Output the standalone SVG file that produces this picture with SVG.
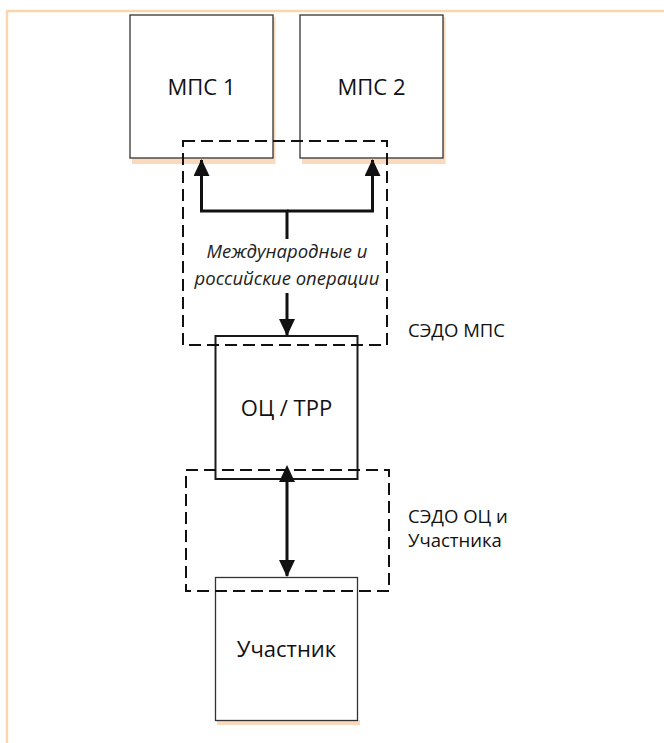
<svg xmlns="http://www.w3.org/2000/svg" width="664" height="743" viewBox="0 0 664 743">
<defs>
<style>
.frame{fill:none;stroke:#FBD5AE;stroke-width:2.5}
.shadow{fill:#FBD9BC}
.box{fill:#fff;stroke:#333;stroke-width:1.3}
.boxb{fill:#fff;stroke:#1a1a1a;stroke-width:2}
.dash{fill:none;stroke:#111;stroke-width:2;stroke-dasharray:12 6}
.con{fill:none;stroke:#111;stroke-width:3}
.lbl{font-family:"Open Sans","Noto Sans","DejaVu Sans",sans-serif;font-size:22px;fill:#111;text-anchor:middle}
.side{font-family:"Open Sans","Noto Sans","DejaVu Sans",sans-serif;font-size:18.5px;fill:#111}
.it{font-family:"Open Sans","Noto Sans","DejaVu Sans",sans-serif;font-size:18.5px;font-style:italic;fill:#222;text-anchor:middle}
</style>
<marker id="ah" viewBox="0 0 17 16" refX="16" refY="8" markerWidth="17" markerHeight="16" markerUnits="userSpaceOnUse" orient="auto">
<path d="M0,0 L17,8 L0,16 z" fill="#111"/>
</marker>
<marker id="ahs" viewBox="0 0 17 16" refX="1" refY="8" markerWidth="17" markerHeight="16" markerUnits="userSpaceOnUse" orient="auto-start-reverse">
<path d="M0,0 L17,8 L0,16 z" fill="#111"/>
</marker>
</defs>
<rect width="664" height="743" fill="#fff"/>
<path class="frame" d="M7,743 V11 H664"/>

<g id="node-mps1">
<rect class="shadow" x="132" y="158" width="143" height="6"/>
<rect class="shadow" x="273" y="17" width="2.5" height="147"/>
<rect class="box" x="130" y="15" width="143" height="143"/>
<text class="lbl" x="201.5" y="95">МПС 1</text>
</g>
<g id="node-mps2">
<rect class="shadow" x="302" y="158" width="143" height="6"/>
<rect class="shadow" x="443" y="17" width="2.5" height="147"/>
<rect class="box" x="300" y="15" width="143" height="143"/>
<text class="lbl" x="371.5" y="95">МПС 2</text>
</g>
<g id="node-oc">
<rect class="boxb" x="215.5" y="336" width="142" height="143"/>
<text class="lbl" x="286.5" y="416">ОЦ / ТРР</text>
</g>
<g id="node-participant">
<rect class="shadow" x="217" y="720" width="143" height="5"/>
<rect class="box" x="215.5" y="577.5" width="142" height="143" stroke="#555"/>
<text class="lbl" x="286.5" y="657">Участник</text>
</g>

<g id="group-sedo-mps">
<rect class="dash" x="183" y="141" width="204" height="204"/>
<text class="side" x="408" y="337">СЭДО МПС</text>
</g>
<g id="group-sedo-oc">
<rect class="dash" x="186" y="470" width="203" height="121"/>
<text class="side" x="408" y="523">СЭДО ОЦ и</text>
<text class="side" x="408" y="547">Участника</text>
</g>

<g id="connectors">
<path class="con" d="M287,239 V211 H201.5 V160" marker-end="url(#ah)"/>
<path class="con" d="M287,211 H372.5 V160" marker-end="url(#ah)"/>
<path class="con" d="M287,293 V335" marker-end="url(#ah)"/>
<path class="con" d="M287,481 V576" marker-start="url(#ahs)" marker-end="url(#ah)"/>
<text class="it" x="287" y="258">Международные и</text>
<text class="it" x="287" y="285">российские операции</text>
</g>
</svg>
